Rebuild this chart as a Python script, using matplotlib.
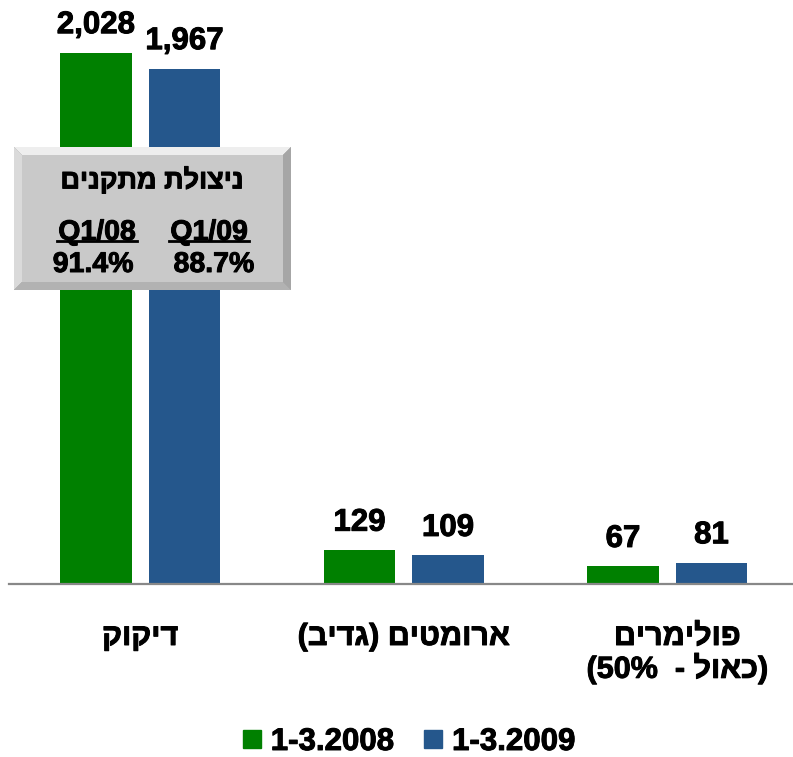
import matplotlib
matplotlib.use("Agg")
import matplotlib.pyplot as plt
from matplotlib.patches import Polygon
from matplotlib.lines import Line2D
import matplotlib.patheffects as pe

plt.rcParams['font.family'] = ['Liberation Sans', 'DejaVu Sans']
plt.rcParams['font.weight'] = 'bold'

# ---- data ----
categories = ["קוקיד", "(בידג) םיטמורא", "םירמילופ\n(50%  - לואכ)"]  # visual order (RTL reversed)
series_names = ["1-3.2008", "1-3.2009"]
values_2008 = [2028, 129, 67]
values_2009 = [1967, 109, 81]
value_labels_2008 = ["2,028", "129", "67"]
value_labels_2009 = ["1,967", "109", "81"]
colors = ["#008000", "#25578C"]

box_title = "םינקתמ תלוצינ"
box_periods = ["Q1/08", "Q1/09"]
box_values = ["91.4%", "88.7%"]

W, H = 793, 757
fig = plt.figure(figsize=(W / 100, H / 100), dpi=100)

def fx(x):
    return x / W

def fy(y):
    return 1 - y / H

heavy = [pe.withStroke(linewidth=0.7, foreground="black")]

# axes: baseline at y=584 px, top at 0, x from 8.5 to ~799
ax = fig.add_axes([fx(8.5), fy(584), 790.5 / W, 584 / H])
ax.set_xlim(-0.5, 2.5)
ax.set_ylim(0, 2229)
for s in ["top", "right", "left"]:
    ax.spines[s].set_visible(False)
ax.spines["bottom"].set_color("#888888")
ax.spines["bottom"].set_linewidth(1.6)
ax.set_xticks([])
ax.set_yticks([])
ax.patch.set_alpha(0)

xs = list(range(len(categories)))
bw = 0.273
off = 0.168
b1 = ax.bar([x - off for x in xs], values_2008, width=bw, color=colors[0], label=series_names[0], zorder=2)
b2 = ax.bar([x + off for x in xs], values_2009, width=bw, color=colors[1], label=series_names[1], zorder=2)

for bars, labels in ((b1, value_labels_2008), (b2, value_labels_2009)):
    for rect, lab in zip(bars, labels):
        ax.annotate(lab, xy=(rect.get_x() + rect.get_width() / 2, rect.get_height()),
                    xytext=(0, 19.5), textcoords="offset pixels",
                    ha="center", va="baseline", fontsize=22.5, fontweight="bold", color="black",
                    path_effects=heavy)

# category labels below axis
cat_dx = [0, 0, 10]
for x, lab, dx in zip(xs, categories, cat_dx):
    ax.annotate(lab, xy=(x, 0), xycoords=("data", "axes fraction"),
                xytext=(dx, -38), textcoords="offset pixels",
                ha="center", va="top", fontsize=22, fontweight="bold",
                linespacing=1.02, multialignment="center", path_effects=heavy)

# ---- beveled info box (pixel coords, y from top) ----
bx0, by0, bx1, by1 = 14, 147, 291, 290
bev = 8
tf = fig.transFigure

def P(pts, color, z=5):
    poly = Polygon([(fx(x), fy(y)) for x, y in pts], closed=True, transform=tf,
                   facecolor=color, edgecolor="none", zorder=z)
    fig.patches.append(poly)

P([(bx0, by0), (bx1, by0), (bx1, by1), (bx0, by1)], "#9a9a9a", 4)
P([(bx0, by0), (bx1, by0), (bx1 - bev, by0 + bev), (bx0 + bev, by0 + bev)], "#eeeeee")  # top
P([(bx0, by0), (bx0 + bev, by0 + bev), (bx0 + bev, by1 - bev), (bx0, by1)], "#dadada")  # left
P([(bx1, by0), (bx1, by1), (bx1 - bev, by1 - bev), (bx1 - bev, by0 + bev)], "#a6a6a6")  # right
P([(bx0, by1), (bx0 + bev, by1 - bev), (bx1 - bev, by1 - bev), (bx1, by1)], "#b2b2b2")  # bottom
P([(bx0 + bev, by0 + bev), (bx1 - bev, by0 + bev), (bx1 - bev, by1 - bev), (bx0 + bev, by1 - bev)], "#c9c9c9")

fig.text(fx(152), fy(181), box_title, ha="center", va="center", fontsize=19.5,
         fontweight="bold", zorder=10, path_effects=heavy)
for cx, per, val, vdx in zip([97, 209], box_periods, box_values, [-4, 5]):
    fig.text(fx(cx), fy(240), per, ha="center", va="baseline", fontsize=20.5,
             fontweight="bold", zorder=10, path_effects=heavy)
    fig.text(fx(cx + vdx), fy(272), val, ha="center", va="baseline", fontsize=20.5,
             fontweight="bold", zorder=10, path_effects=heavy)
    ln = Line2D([fx(cx - 40), fx(cx + 40)], [fy(241), fy(241)], transform=tf,
                color="black", linewidth=2.0, zorder=10)
    fig.lines.append(ln)

# ---- legend ----
handles = [Line2D([], [], marker="s", linestyle="none", markersize=13,
                  markerfacecolor=c, markeredgecolor=c) for c in colors]
leg = fig.legend(handles, series_names, loc="center", bbox_to_anchor=(fx(409), fy(742)),
                 bbox_transform=tf, ncol=2, frameon=False,
                 handlelength=0.6, handletextpad=0.3, columnspacing=0.95,
                 prop={"weight": "bold", "size": 22.5})
for t in leg.get_texts():
    t.set_path_effects(heavy)

fig.savefig("out.png", dpi=100)
